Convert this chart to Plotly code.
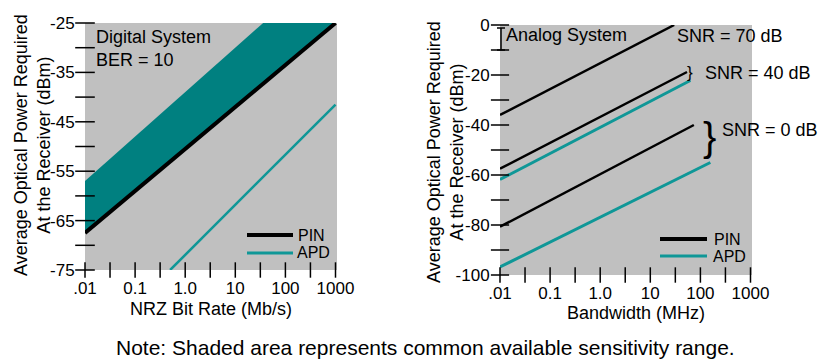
import numpy as np
import plotly.graph_objects as go

# ---------------- data ----------------
# Digital system (left)
digital_x = [0.01, 1000]
pin_digital = [-67.5, -25]
band_x = [0.01, 0.1, 1, 10, 100, 1000]
band_upper = [-57, -48, -39, -30, -21, -12]
apd_digital_x = [0.5, 1000]
apd_digital = [-75, -41.5]

# Analog system (right)
pin70_x = [0.01, 30]
pin70 = [-36, 0]
pin40_x = [0.01, 54]
pin40 = [-57.5, -18.8]
apd40_x = [0.01, 63]
apd40 = [-61.8, -22.2]
pin0_x = [0.01, 74]
pin0 = [-80.7, -40]
apd0_x = [0.01, 158]
apd0 = [-96.8, -55]

# ticks
x_tick_vals = [0.01, 0.1, 1, 10, 100, 1000]
x_tick_text = [".01", "0.1", "1.0", "10", "100", "1000"]
x_minor_ticks = [0.01, 0.0316, 0.1, 0.316, 1, 3.16, 10, 31.6, 100, 316, 1000]
left_y_labels = [-25, -35, -45, -55, -65, -75]
left_y_text = ["-25", "-35", "-45", "-55", "-65", "-75"]
left_y_ticks = [-25, -30, -35, -40, -45, -50, -55, -60, -65, -70, -75]
right_y_labels = [0, -20, -40, -60, -80, -100]
right_y_text = ["0", "-20", "-40", "-60", "-80", "-100"]
right_y_ticks = [0, -10, -20, -30, -40, -50, -60, -70, -80, -90, -100]

BLACK = "#000000"
TEAL_FILL = "#008080"
TEAL = "#0f9797"
GRAY = "#c0c0c0"
FONT = "Liberation Sans, Arial, sans-serif"

W, H = 823, 360
def px(x):
    return x / W
def py(y):
    return 1 - y / H

fig = go.Figure()

# ---- left panel ----
fig.add_trace(go.Scatter(x=digital_x, y=pin_digital, mode="lines", line=dict(width=0, color=BLACK),
                         xaxis="x", yaxis="y", showlegend=False, hoverinfo="skip"))
fig.add_trace(go.Scatter(x=band_x, y=band_upper, mode="lines", line=dict(width=0, color=TEAL_FILL),
                         fill="tonexty", fillcolor=TEAL_FILL, xaxis="x", yaxis="y", showlegend=False))
fig.add_trace(go.Scatter(x=digital_x, y=pin_digital, mode="lines", line=dict(width=4, color=BLACK),
                         xaxis="x", yaxis="y", showlegend=False))
fig.add_trace(go.Scatter(x=apd_digital_x, y=apd_digital, mode="lines", line=dict(width=2.5, color=TEAL),
                         xaxis="x", yaxis="y", showlegend=False))

# ---- right panel ----
for xs, ys, col, w in [(pin70_x, pin70, BLACK, 2.5), (apd40_x, apd40, TEAL, 3),
                       (pin40_x, pin40, BLACK, 2.5), (apd0_x, apd0, TEAL, 3),
                       (pin0_x, pin0, BLACK, 2.5)]:
    fig.add_trace(go.Scatter(x=xs, y=ys, mode="lines", line=dict(width=w, color=col),
                             xaxis="x2", yaxis="y2", showlegend=False))

# ---- crossing tick marks ----
def tick_trace(xs, ys, sym, size, xa, ya):
    return go.Scatter(x=xs, y=ys, mode="markers", cliponaxis=False, showlegend=False, hoverinfo="skip",
                      marker=dict(symbol=sym, size=size, color=BLACK, line=dict(width=1.5, color=BLACK)),
                      xaxis=xa, yaxis=ya)

fig.add_trace(tick_trace([0.01] * len(left_y_ticks), left_y_ticks, "line-ew", 14, "x", "y"))
fig.add_trace(tick_trace(x_minor_ticks, [-75] * len(x_minor_ticks), "line-ns", 11, "x", "y"))
fig.add_trace(tick_trace([0.01] * len(right_y_ticks), right_y_ticks, "line-ew", 13, "x2", "y2"))
fig.add_trace(tick_trace(x_minor_ticks, [-100] * len(x_minor_ticks), "line-ns", 11, "x2", "y2"))

axis_common = dict(showgrid=False, zeroline=False, showline=False, ticks="outside", automargin=False,
                   tickcolor="rgba(0,0,0,0)", tickfont=dict(family=FONT, size=17, color=BLACK))

fig.update_layout(
    width=W, height=H, margin=dict(l=0, r=0, t=0, b=0, autoexpand=False),
    paper_bgcolor="white", plot_bgcolor=GRAY,
    font=dict(family=FONT, color=BLACK),
    xaxis=dict(domain=[px(85), px(337)], type="log", range=[-2, 3.03], anchor="y",
               tickvals=x_tick_vals, ticktext=x_tick_text, ticklen=3, **axis_common),
    yaxis=dict(domain=[py(270), py(23)], range=[-75, -25], anchor="x",
               tickvals=left_y_labels, ticktext=left_y_text, ticklen=6, **axis_common),
    xaxis2=dict(domain=[px(500), px(752)], type="log", range=[-2, 3.03], anchor="y2",
                tickvals=x_tick_vals, ticktext=x_tick_text, ticklen=3, **axis_common),
    yaxis2=dict(domain=[py(275), py(25)], range=[-100, 0], anchor="x2",
                tickvals=right_y_labels, ticktext=right_y_text, ticklen=6, **axis_common),
)

ann_font = dict(family=FONT, size=18, color=BLACK)
leg_font = dict(family=FONT, size=16, color=BLACK)
ytitle = "Average Optical Power Required<br>At the Receiver (dBm)"
annotations = [
    dict(text=ytitle, x=px(32), y=py(145), xanchor="center", yanchor="middle", textangle=-90),
    dict(text=ytitle, x=px(445), y=py(152), xanchor="center", yanchor="middle", textangle=-90),
    dict(text="NRZ Bit Rate (Mb/s)", x=px(211), y=py(309), xanchor="center", yanchor="middle"),
    dict(text="Bandwidth (MHz)", x=px(636), y=py(313), xanchor="center", yanchor="middle"),
    dict(text="Digital System", x=px(94), y=py(37), xanchor="left", yanchor="middle"),
    dict(text="BER = 10", x=px(94), y=py(60), xanchor="left", yanchor="middle"),
    dict(text="Analog System", x=px(504), y=py(35), xanchor="left", yanchor="middle"),
    dict(text="SNR = 70 dB", x=px(675), y=py(36), xanchor="left", yanchor="middle"),
    dict(text="SNR = 40 dB", x=px(703), y=py(73), xanchor="left", yanchor="middle"),
    dict(text="SNR = 0 dB", x=px(720), y=py(130), xanchor="left", yanchor="middle"),
    dict(text="PIN", x=px(296), y=py(235), xanchor="left", yanchor="middle", font=leg_font),
    dict(text="APD", x=px(295), y=py(253), xanchor="left", yanchor="middle", font=leg_font),
    dict(text="PIN", x=px(712), y=py(239), xanchor="left", yanchor="middle", font=leg_font),
    dict(text="APD", x=px(711), y=py(256), xanchor="left", yanchor="middle", font=leg_font),
    dict(text="Note: Shaded area represents common available sensitivity range.",
         x=px(425), y=py(347), xanchor="center", yanchor="middle", font=dict(family=FONT, size=21, color=BLACK)),
    dict(text="}", x=px(690), y=py(73), xanchor="center", yanchor="middle", font=dict(family=FONT, size=17, color=BLACK)),
    dict(text="}", x=px(709), y=py(137), xanchor="center", yanchor="middle", font=dict(family=FONT, size=40, color=BLACK)),
]
for a in annotations:
    a.setdefault("font", ann_font)
    a.update(xref="paper", yref="paper", showarrow=False)
fig.update_layout(annotations=annotations)

# legend keys and the I-beam marker
shapes = [
    dict(type="line", x0=px(247), x1=px(293), y0=py(235), y1=py(235), line=dict(color=BLACK, width=4)),
    dict(type="line", x0=px(247), x1=px(293), y0=py(253), y1=py(253), line=dict(color=TEAL, width=3)),
    dict(type="line", x0=px(660), x1=px(707), y0=py(239), y1=py(239), line=dict(color=BLACK, width=4)),
    dict(type="line", x0=px(660), x1=px(707), y0=py(256), y1=py(256), line=dict(color=TEAL, width=3)),
    dict(type="line", x0=px(501), x1=px(501), y0=py(28), y1=py(50), line=dict(color=BLACK, width=1.5)),
    dict(type="line", x0=px(497), x1=px(505), y0=py(28), y1=py(28), line=dict(color=BLACK, width=1.5)),
    dict(type="line", x0=px(497), x1=px(505), y0=py(50), y1=py(50), line=dict(color=BLACK, width=1.5)),
]
for s in shapes:
    s.update(xref="paper", yref="paper")
fig.update_layout(shapes=shapes)

fig.write_html("out.html", config={"displayModeBar": False},
               post_script="document.body.style.margin='0';")
